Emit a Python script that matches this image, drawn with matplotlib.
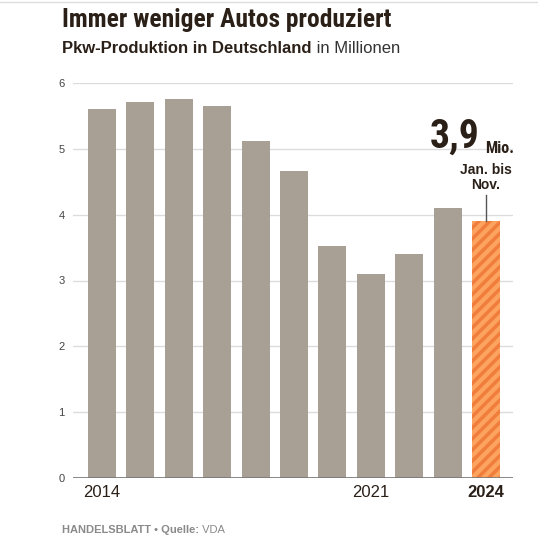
import matplotlib
matplotlib.use("Agg")
import matplotlib.pyplot as plt

# Pkw-Produktion in Deutschland, Mio.
years = [2014, 2015, 2016, 2017, 2018, 2019, 2020, 2021, 2022, 2023, 2024]
values = [5.60, 5.71, 5.75, 5.65, 5.12, 4.66, 3.52, 3.10, 3.40, 4.10, 3.90]
tick_years = [2014, 2021, 2024]
y_ticks = [0, 1, 2, 3, 4, 5, 6]

BAR = "#a9a095"
ORANGE = "#fba35f"
ORANGE_DARK = "#f07d3c"
DARK = "#2b2018"
COND = dict(family=["Roboto Condensed", "DejaVu Sans"], fontweight="bold")

plt.rcParams["font.family"] = ["Liberation Sans", "DejaVu Sans"]
plt.rcParams["hatch.linewidth"] = 2.5

fig = plt.figure(figsize=(5.38, 5.42), dpi=100)
ax = fig.add_axes([73 / 538, 1 - 478 / 542, 440 / 538, 395 / 542])


def fit_width(txt, px):
    # scale a text until it is px pixels wide
    r = fig.canvas.get_renderer()
    w = txt.get_window_extent(r).width
    txt.set_fontsize(txt.get_fontsize() * px / w)


ax.bar(years[:-1], values[:-1], width=0.73, color=BAR, zorder=2)
ax.bar(years[-1], values[-1], width=0.73, color=ORANGE, edgecolor=ORANGE_DARK,
       hatch="///", linewidth=0, zorder=2)

ax.set_xlim(2014 - 0.755, 2024 + 0.70)
ax.set_ylim(0, 6)
ax.set_yticks(y_ticks)
ax.set_yticklabels([str(v) for v in y_ticks], fontsize=8, color="#444444")
ax.grid(axis="y", color="#dcdcdc", linewidth=1, zorder=0)
ax.axhline(0, color="#777777", linewidth=1.2, zorder=3)
for s in ax.spines.values():
    s.set_visible(False)
ax.tick_params(axis="y", length=0, pad=6)
ax.tick_params(axis="x", length=0, pad=5)
ax.set_xticks(tick_years)
ax.set_xticklabels([str(y) for y in tick_years], fontsize=12, color=DARK)
ax.get_xticklabels()[-1].set_fontweight("bold")

# annotation for 2024
ax.plot([2024, 2024], [values[-1], values[-1] + 0.4], color="#555555",
        linewidth=1, zorder=3, clip_on=False)
ax.text(2024, values[-1] + 0.44, "Jan. bis\nNov.", ha="center", va="bottom",
        fontsize=10, fontweight="bold", color=DARK, linespacing=1.1)
big = ax.text(2024 - 0.18, 5.02, "3,9", ha="right", va="baseline",
              fontsize=30, color=DARK, clip_on=False, **COND)
fit_width(big, 50)
mio = ax.annotate("Mio.", xy=(1, 0), xycoords=big, xytext=(4, 0),
                  textcoords="offset points", va="bottom", ha="left",
                  fontsize=12, color=DARK, **COND)
fit_width(mio, 29)

# titles
title = fig.text(62 / 538, 1 - 27 / 542, "Immer weniger Autos produziert",
                 fontsize=21, color=DARK, va="baseline", **COND)
fit_width(title, 330)
sub = fig.text(62 / 538, 1 - 53 / 542, "Pkw-Produktion in Deutschland",
               fontsize=12, fontweight="bold", color=DARK, va="baseline")
ax.annotate(" in Millionen", xy=(1, 0), xycoords=sub, va="bottom", ha="left",
            fontsize=12, color="#333333", annotation_clip=False)

foot = fig.text(62 / 538, 1 - 533 / 542, "HANDELSBLATT \u2022 Quelle:",
                fontsize=8, fontweight="bold", color="#8a8a8a", va="baseline")
ax.annotate(" VDA", xy=(1, 0), xycoords=foot, va="bottom", ha="left",
            fontsize=8, color="#8a8a8a", annotation_clip=False)

fig.add_artist(plt.Line2D([0, 1], [1 - 2 / 542, 1 - 2 / 542], color="#dddddd",
                          linewidth=1))

fig.savefig("out.png", dpi=100)
